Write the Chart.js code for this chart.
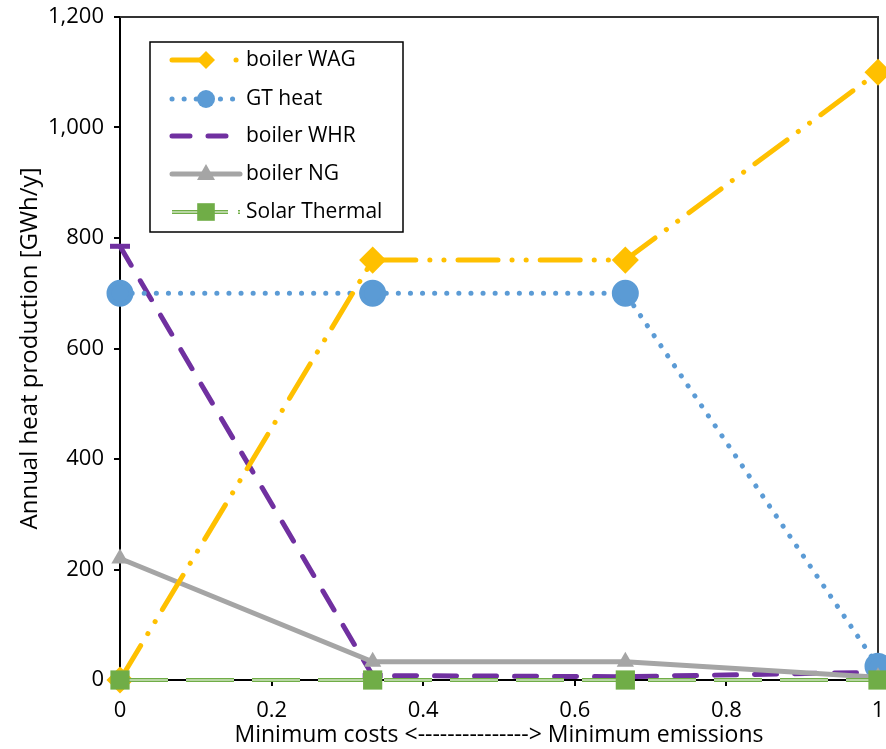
<!DOCTYPE html>
<html>
<head>
<meta charset="utf-8">
<script src="https://cdn.jsdelivr.net/npm/chart.js@4.4.1/dist/chart.umd.min.js"></script>
<style>
  html, body { margin: 0; padding: 0; background: #fff; }
  #wrap { width: 886px; height: 749px; }
</style>
</head>
<body>
<div id="wrap"><canvas id="heatChart" width="886" height="749"></canvas></div>
<script>
// x positions (weight between minimum costs and minimum emissions)
const xValues = [0, 1 / 3, 2 / 3, 1];

// annual heat production per technology [GWh/y]
const boilerWAG = [0, 760, 760, 1100];
const gtHeat = [700, 700, 700, 25];
const boilerWHR = [785, 8, 6, 14];
const boilerNG = [220, 33, 33, 5];
const solarThermal = [0, 0, 0, 0];

const seriesNames = ['boiler WAG', 'GT heat', 'boiler WHR', 'boiler NG', 'Solar Thermal'];

const FONT = 'Open Sans';

function toPoints(values) {
    return values.map((v, i) => ({ x: xValues[i], y: v }));
}

// small marker drawer, used for the legend samples
function drawMarker(ctx, style, x, y, r, color) {
    ctx.save();
    ctx.fillStyle = color;
    ctx.strokeStyle = color;
    ctx.setLineDash([]);
    ctx.beginPath();
    if (style === 'circle') {
        ctx.arc(x, y, r, 0, Math.PI * 2);
        ctx.fill();
    } else if (style === 'rectRot') {
        ctx.moveTo(x, y - r);
        ctx.lineTo(x + r, y);
        ctx.lineTo(x, y + r);
        ctx.lineTo(x - r, y);
        ctx.closePath();
        ctx.fill();
    } else if (style === 'triangle') {
        ctx.moveTo(x, y - r);
        ctx.lineTo(x + r * 0.9, y + r * 0.6);
        ctx.lineTo(x - r * 0.9, y + r * 0.6);
        ctx.closePath();
        ctx.fill();
    } else if (style === 'rect') {
        ctx.fillRect(x - r * 0.8, y - r * 0.8, r * 1.6, r * 1.6);
    }
    ctx.restore();
}

// legend box drawn inside the plot, like the original
const boxLegend = {
    id: 'boxLegend',
    afterDatasetsDraw(chart) {
        const ctx = chart.ctx;
        const left = 150, top = 42, width = 253, height = 190;
        ctx.save();
        ctx.fillStyle = '#fff';
        ctx.fillRect(left, top, width, height);
        ctx.strokeStyle = '#000';
        ctx.lineWidth = 1.5;
        ctx.strokeRect(left, top, width, height);

        const rows = [60, 99, 136, 174, 212];
        chart.data.datasets.forEach((ds, i) => {
            const y = rows[i];
            ctx.save();
            ctx.strokeStyle = ds.borderColor;
            ctx.lineWidth = ds.borderWidth;
            ctx.lineCap = ds.borderCapStyle || 'butt';
            ctx.setLineDash(ds.legendDash || ds.borderDash || []);
            ctx.beginPath();
            ctx.moveTo(172, y);
            ctx.lineTo(240, y);
            ctx.stroke();
            if (ds.double) {
                ctx.strokeStyle = '#fff';
                ctx.lineWidth = 1;
                ctx.beginPath();
                ctx.moveTo(172, y);
                ctx.lineTo(240, y);
                ctx.stroke();
            }
            ctx.restore();
            if (ds.legendMarker) {
                drawMarker(ctx, ds.pointStyle, 206, y, ds.legendMarker, ds.pointBackgroundColor);
            }
            ctx.fillStyle = '#000';
            ctx.font = '21px "' + FONT + '"';
            ctx.textBaseline = 'middle';
            ctx.textAlign = 'left';
            ctx.fillText(ds.label, 246, y);
        });
        ctx.restore();
    }
};

// top and right frame lines
const frame = {
    id: 'frame',
    beforeDatasetsDraw(chart) {
        const { ctx, chartArea } = chart;
        ctx.save();
        ctx.strokeStyle = '#333';
        ctx.lineWidth = 2;
        ctx.beginPath();
        ctx.moveTo(chartArea.left, chartArea.top);
        ctx.lineTo(chartArea.right, chartArea.top);
        ctx.lineTo(chartArea.right, chartArea.bottom);
        ctx.stroke();
        ctx.restore();
    }
};

// the solar thermal line is a double line: thin white core, then markers again
const doubleLine = {
    id: 'doubleLine',
    afterDatasetDraw(chart, args) {
        const ds = chart.data.datasets[args.index];
        if (!ds.double) return;
        const pts = args.meta.data;
        const ctx = chart.ctx;
        ctx.save();
        ctx.strokeStyle = '#fff';
        ctx.lineWidth = 1;
        ctx.setLineDash(ds.borderDash);
        ctx.beginPath();
        pts.forEach((p, i) => (i ? ctx.lineTo(p.x, p.y) : ctx.moveTo(p.x, p.y)));
        ctx.stroke();
        ctx.restore();
        pts.forEach(p => drawMarker(ctx, 'rect', p.x, p.y, 12, ds.pointBackgroundColor));
    }
};

const ctx = document.getElementById('heatChart').getContext('2d');

new Chart(ctx, {
    type: 'line',
    data: {
        datasets: [
            {
                label: seriesNames[0],
                data: toPoints(boilerWAG),
                borderColor: '#FFC000',
                backgroundColor: '#FFC000',
                pointBackgroundColor: '#FFC000',
                borderWidth: 5,
                borderCapStyle: 'round',
                borderDash: [40, 14, 0.1, 14, 0.1, 14],
                legendDash: [36, 28, 0.1, 14],
                pointStyle: 'rectRot',
                pointRadius: 10,
                legendMarker: 9,
                clip: false,
                order: 1
            },
            {
                label: seriesNames[1],
                data: toPoints(gtHeat),
                borderColor: '#5B9BD5',
                backgroundColor: '#5B9BD5',
                pointBackgroundColor: '#5B9BD5',
                borderWidth: 5,
                borderCapStyle: 'round',
                borderDash: [0.1, 12],
                pointStyle: 'circle',
                pointRadius: 11,
                legendMarker: 9,
                clip: false,
                order: 2
            },
            {
                label: seriesNames[2],
                data: toPoints(boilerWHR),
                borderColor: '#7030A0',
                backgroundColor: '#7030A0',
                pointBackgroundColor: '#7030A0',
                borderWidth: 5,
                borderCapStyle: 'round',
                borderDash: [22, 18],
                legendDash: [18, 18],
                pointStyle: 'line',
                pointRadius: 10,
                pointBorderWidth: 5,
                pointBorderColor: '#7030A0',
                legendMarker: 0,
                clip: false,
                order: 3
            },
            {
                label: seriesNames[3],
                data: toPoints(boilerNG),
                borderColor: '#A5A5A5',
                backgroundColor: '#A5A5A5',
                pointBackgroundColor: '#A5A5A5',
                borderWidth: 5,
                borderCapStyle: 'round',
                pointStyle: 'triangle',
                pointRadius: 10,
                pointBorderWidth: 0,
                legendMarker: 10,
                clip: false,
                order: 1
            },
            {
                label: seriesNames[4],
                data: toPoints(solarThermal),
                borderColor: '#70AD47',
                backgroundColor: '#70AD47',
                pointBackgroundColor: '#70AD47',
                borderWidth: 4,
                borderDash: [48, 18],
                legendDash: [56, 10, 4, 10],
                double: true,
                pointStyle: 'rect',
                pointRadius: 0,
                legendMarker: 11,
                clip: false,
                order: 0
            }
        ]
    },
    options: {
        responsive: false,
        animation: false,
        layout: { autoPadding: false, padding: { top: 17, right: 8, left: 0, bottom: 0 } },
        elements: { line: { tension: 0, fill: false } },
        plugins: {
            legend: { display: false },
            tooltip: { enabled: false }
        },
        scales: {
            x: {
                type: 'linear',
                min: 0,
                max: 1,
                afterFit: scale => {
                    scale.height = 69;
                    scale.paddingLeft = 0;
                    scale.paddingRight = 0;
                },
                ticks: {
                    stepSize: 0.2,
                    color: '#000',
                    font: { family: FONT, size: 22 },
                    padding: 12,
                    maxRotation: 0,
                    callback: v => String(Math.round(v * 10) / 10)
                },
                grid: { drawOnChartArea: false, drawTicks: true, tickLength: 6, color: '#000', lineWidth: 2 },
                border: { color: '#000', width: 2 },
                title: {
                    display: true,
                    text: 'Minimum costs <---------------> Minimum emissions',
                    color: '#000',
                    font: { family: FONT, size: 23 },
                    padding: { top: -10, bottom: 0 }
                }
            },
            y: {
                min: 0,
                max: 1200,
                afterFit: scale => {
                    scale.width = 120;
                    scale.paddingTop = 0;
                    scale.paddingBottom = 0;
                },
                ticks: {
                    stepSize: 200,
                    color: '#000',
                    font: { family: FONT, size: 22 },
                    padding: 10,
                    callback: v => v.toLocaleString('en-US')
                },
                grid: { drawOnChartArea: false, drawTicks: true, tickLength: 6, color: '#000', lineWidth: 2 },
                border: { color: '#000', width: 2 },
                title: {
                    display: true,
                    text: 'Annual heat production [GWh/y]',
                    color: '#000',
                    font: { family: FONT, size: 24 },
                    padding: { top: 16, bottom: 0 }
                }
            }
        }
    },
    plugins: [frame, doubleLine, boxLegend]
});
</script>
</body>
</html>
